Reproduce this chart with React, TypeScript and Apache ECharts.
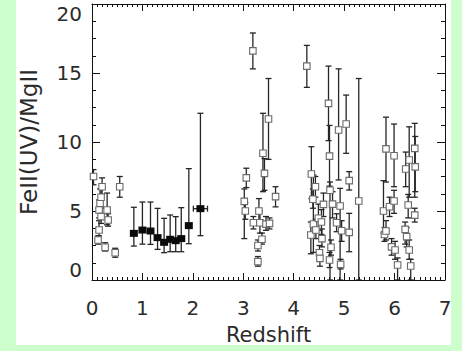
import React, { useEffect, useRef } from "react";
import * as echarts from "echarts";

// [redshift, value, lower, upper]
const openPoints: [number, number, number, number][] = [
  [0.03, 7.5, 6.9, 8.0],
  [0.12, 2.9, 2.6, 3.2],
  [0.14, 3.62, 3.2, 4.3],
  [0.14, 5.07, 4.5, 5.8],
  [0.16, 5.56, 5.0, 6.6],
  [0.18, 6.0, 5.2, 6.6],
  [0.2, 6.76, 6.2, 7.4],
  [0.18, 4.59, 4.1, 5.3],
  [0.26, 2.37, 2.1, 2.7],
  [0.3, 5.07, 4.0, 6.3],
  [0.32, 4.35, 3.9, 4.8],
  [0.46, 1.98, 1.65, 2.3],
  [0.55, 6.76, 6.0, 7.5],
  [3.02, 5.7, 3.0, 6.6],
  [3.04, 5.0, 4.4, 5.6],
  [3.06, 7.4, 6.7, 8.1],
  [3.19, 16.6, 15.3, 17.9],
  [3.2, 4.15, 3.7, 4.6],
  [3.29, 1.33, 1.0, 1.7],
  [3.29, 2.5, 2.1, 2.9],
  [3.31, 5.0, 4.2, 5.9],
  [3.33, 4.15, 3.4, 5.0],
  [3.37, 2.95, 2.6, 3.4],
  [3.39, 9.18, 6.4, 12.08],
  [3.42, 7.73, 6.5, 8.8],
  [3.45, 4.05, 3.6, 4.6],
  [3.5, 11.67, 8.74, 14.6],
  [3.52, 4.1, 3.7, 4.5],
  [3.64, 6.04, 5.3, 6.76],
  [4.26, 15.5, 13.96, 17.0],
  [4.34, 3.26, 1.9, 4.2],
  [4.35, 7.68, 5.9, 9.66],
  [4.38, 5.85, 5.2, 6.6],
  [4.39, 4.06, 2.0, 7.6],
  [4.43, 6.76, 6.0, 7.5],
  [4.44, 3.62, 3.0, 4.4],
  [4.49, 4.47, 3.6, 5.5],
  [4.51, 1.98, 1.5, 2.5],
  [4.52, 1.57, 1.0, 2.2],
  [4.55, 4.2, 3.3, 5.1],
  [4.56, 3.0, 2.4, 3.7],
  [4.59, 5.48, 4.6, 6.3],
  [4.69, 12.8, 10.1, 15.5],
  [4.71, 8.98, 6.8, 11.2],
  [4.72, 6.5, 0, 7.1],
  [4.71, 1.45, 0.9, 2.0],
  [4.74, 2.37, 1.8, 2.9],
  [4.77, 5.5, 4.5, 6.4],
  [4.85, 4.15, 3.5, 4.8],
  [4.89, 10.87, 7.25, 15.3],
  [4.92, 5.36, 0, 6.64],
  [4.93, 1.13, 0.8, 1.5],
  [4.95, 3.57, 2.8, 4.3],
  [5.04, 11.3, 9.18, 13.4],
  [5.1, 7.2, 6.52, 7.85],
  [5.1, 3.45, 2.05, 4.83],
  [5.29, 5.72, 0, 14.6],
  [5.78, 5.0, 3.4, 7.2],
  [5.8, 3.3, 2.8, 3.8],
  [5.83, 9.5, 7.1, 11.8],
  [5.83, 3.55, 2.9, 4.3],
  [5.9, 5.31, 4.6, 6.0],
  [5.94, 2.4, 1.8, 3.0],
  [5.99, 9.0, 6.76, 11.3],
  [5.99, 5.72, 4.83, 6.5],
  [6.01, 2.17, 1.5, 2.8],
  [6.06, 1.09, 0, 1.6],
  [6.21, 3.67, 2.6, 4.2],
  [6.22, 8.04, 6.76, 9.27],
  [6.24, 3.14, 2.4, 3.8],
  [6.27, 5.43, 4.5, 6.2],
  [6.29, 8.7, 6.0, 11.1],
  [6.29, 2.17, 1.5, 2.9],
  [6.32, 1.01, 0, 1.5],
  [6.4, 9.54, 6.0, 11.35],
  [6.41, 8.2, 6.4, 10.4],
  [6.4, 4.7, 4.2, 5.2],
];

// [redshift, value, lower, upper]
const filledPoints: [number, number, number, number][] = [
  [0.83, 3.38, 2.46, 5.27],
  [1.0, 3.62, 2.6, 5.65],
  [1.16, 3.55, 2.58, 5.65],
  [1.3, 3.07, 2.22, 5.19],
  [1.43, 2.73, 1.98, 4.47],
  [1.55, 2.95, 2.05, 4.71],
  [1.66, 2.85, 2.05, 4.59],
  [1.77, 3.0, 2.05, 5.24],
  [1.92, 3.94, 2.63, 8.07],
  [2.15, 5.17, 3.21, 12.08],
];

// horizontal error bars: [zLow, zHigh, value]
const filledXErr: [number, number, number][] = [[2.01, 2.29, 5.17]];

const xTicks = [0, 1, 2, 3, 4, 5, 6, 7];
const yTicks = [0, 5, 10, 15, 20];

const FONT = "DejaVu Sans";
const TXT = "#2b2b2b";

function vErrRender(params: any, api: any) {
  const x = api.value(0);
  const lo = api.coord([x, api.value(2)]);
  const hi = api.coord([x, api.value(3)]);
  const cap = 3;
  const style = { stroke: "#262626", lineWidth: 1.3 };
  return {
    type: "group",
    children: [
      { type: "line", shape: { x1: lo[0], y1: lo[1], x2: hi[0], y2: hi[1] }, style },
      { type: "line", shape: { x1: lo[0] - cap, y1: lo[1], x2: lo[0] + cap, y2: lo[1] }, style },
      { type: "line", shape: { x1: hi[0] - cap, y1: hi[1], x2: hi[0] + cap, y2: hi[1] }, style },
    ],
  };
}

function hErrRender(params: any, api: any) {
  const y = api.value(2);
  const a = api.coord([api.value(0), y]);
  const b = api.coord([api.value(1), y]);
  const cap = 3;
  const style = { stroke: "#262626", lineWidth: 1.3 };
  return {
    type: "group",
    children: [
      { type: "line", shape: { x1: a[0], y1: a[1], x2: b[0], y2: b[1] }, style },
      { type: "line", shape: { x1: a[0], y1: a[1] - cap, x2: a[0], y2: a[1] + cap }, style },
      { type: "line", shape: { x1: b[0], y1: b[1] - cap, x2: b[0], y2: b[1] + cap }, style },
    ],
  };
}

export default function App() {
  const ref = useRef<HTMLDivElement>(null);

  useEffect(() => {
    if (!ref.current) return;
    const chart = echarts.init(ref.current, undefined, { renderer: "svg" });
    const axisLine = { show: true, onZero: false, lineStyle: { color: "#111", width: 1 } };
    const xBase = {
      type: "value" as const,
      min: xTicks[0],
      max: xTicks[xTicks.length - 1],
      interval: 1,
      axisLine,
      axisTick: { show: true, inside: true, length: 7, lineStyle: { color: "#111" } },
      minorTick: { show: true, splitNumber: 10, length: 3, lineStyle: { color: "#111" } },
      splitLine: { show: false },
      minorSplitLine: { show: false },
    };
    const yBase = {
      type: "value" as const,
      min: yTicks[0],
      max: yTicks[yTicks.length - 1],
      interval: 5,
      axisLine,
      axisTick: { show: true, inside: true, length: 8, lineStyle: { color: "#111" } },
      minorTick: { show: true, splitNumber: 4, length: 4, lineStyle: { color: "#111" } },
      splitLine: { show: false },
      minorSplitLine: { show: false },
    };
    chart.setOption({
      animation: false,
      backgroundColor: "transparent",
      grid: { left: 92, right: 17, top: 4, bottom: 71, containLabel: false },
      xAxis: [
        {
          ...xBase,
          position: "bottom",
          name: "Redshift",
          nameLocation: "middle",
          nameGap: 44,
          nameTextStyle: { fontFamily: FONT, fontSize: 21, color: TXT },
          axisLabel: { show: true, margin: 18, fontFamily: FONT, fontSize: 20, color: TXT },
        },
        { ...xBase, position: "top", axisLabel: { show: false } },
      ],
      yAxis: [
        {
          ...yBase,
          position: "left",
          name: "FeII(UV)/MgII",
          nameLocation: "middle",
          nameGap: 52,
          nameTextStyle: { fontFamily: FONT, fontSize: 23, color: TXT },
          axisLabel: {
            show: true,
            margin: 10,
            fontFamily: FONT,
            fontSize: 20,
            color: TXT,
            verticalAlignMinLabel: "bottom",
            verticalAlignMaxLabel: "top",
          },
        },
        { ...yBase, position: "right", axisLabel: { show: false } },
      ],
      series: [
        {
          type: "custom",
          renderItem: vErrRender,
          data: openPoints.map((p) => [p[0], p[1], p[2], p[3]]),
          clip: true,
          z: 2,
        },
        {
          type: "custom",
          renderItem: vErrRender,
          data: filledPoints.map((p) => [p[0], p[1], p[2], p[3]]),
          clip: true,
          z: 2,
        },
        {
          type: "custom",
          renderItem: hErrRender,
          data: filledXErr,
          clip: true,
          z: 2,
        },
        {
          type: "scatter",
          symbol: "rect",
          symbolSize: 6.5,
          data: openPoints.map((p) => [p[0], p[1]]),
          itemStyle: { color: "#ffffff", borderColor: "#6a6a6a", borderWidth: 1.1, opacity: 1 },
          z: 3,
        },
        {
          type: "scatter",
          symbol: "rect",
          symbolSize: [8, 7],
          data: filledPoints.map((p) => [p[0], p[1]]),
          itemStyle: { color: "#0a0a0a", opacity: 1 },
          z: 4,
        },
      ],
    });
    return () => chart.dispose();
  }, []);

  return (
    <div style={{ position: "fixed", left: 0, top: 0, width: 462, height: 351, background: "#ccffcc" }}>
      <div style={{ position: "absolute", left: 16, top: 0, width: 435, height: 345, background: "#ffffff" }} />
      <div ref={ref} style={{ position: "absolute", left: 0, top: 0, width: 462, height: 351 }} />
    </div>
  );
}
